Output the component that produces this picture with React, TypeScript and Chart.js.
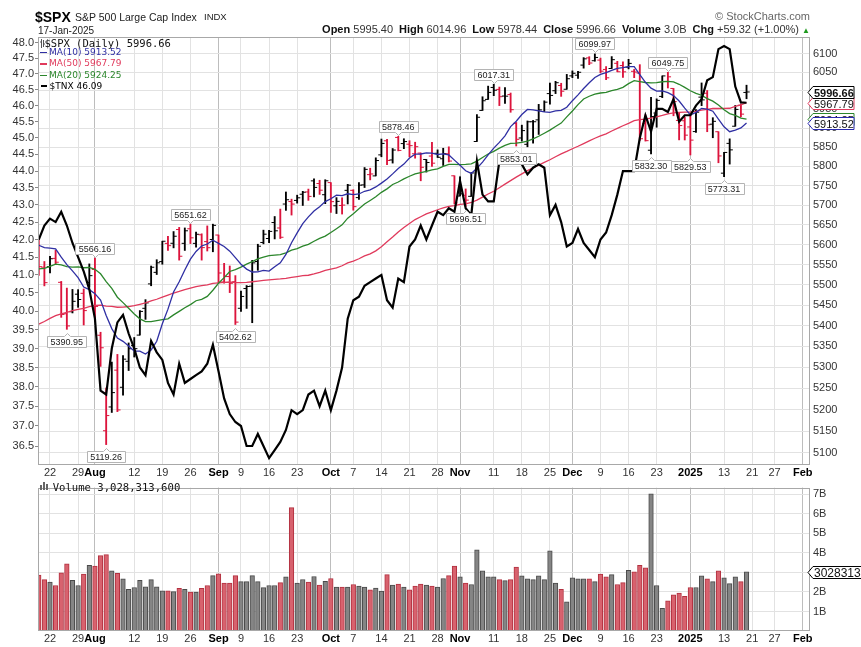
import React, { useEffect, useRef } from 'react';
import { Chart, registerables } from 'chart.js';

Chart.register(...registerables);

const SANS = 'Arial, "Liberation Sans", sans-serif';
const VERD = '"DejaVu Sans", Verdana, sans-serif';
const MONO = '"DejaVu Sans Mono", monospace';

const RED = '#dc143c';
const MA10C = '#2f2fa3';
const MA20C = '#2b862b';
const MA50C = '#e03a5c';

// ---- daily data, 18-Jul-2024 .. 17-Jan-2025 (x position = index) ----
const prevClose = 5588.27;
const opens = [
  5608.56, 5543.37, 5544.54, 5565.30, 5505.84, 5428.70, 5433.67, 5476.55, 5478.73, 5505.59,
  5537.84, 5376.63, 5151.14, 5206.42, 5293.13, 5252.57, 5314.18, 5351.88, 5376.98, 5442.02,
  5501.95, 5530.50, 5557.23, 5602.88, 5603.09, 5637.77, 5602.97, 5639.66, 5602.89, 5624.51,
  5607.30, 5612.74, 5623.89, 5506.68, 5520.08, 5507.33, 5442.07, 5490.51, 5496.42, 5557.48,
  5605.13, 5615.14, 5655.51, 5641.68, 5702.63, 5709.00, 5711.90, 5727.75, 5733.65, 5762.22,
  5755.36, 5726.52, 5757.73, 5698.19, 5698.95, 5737.80, 5737.80, 5719.14, 5751.80, 5778.36,
  5775.09, 5829.81, 5866.74, 5816.58, 5875.62, 5859.43, 5857.82, 5832.70, 5834.50, 5817.80,
  5826.75, 5833.93, 5819.68, 5832.65, 5775.34, 5723.22, 5725.15, 5722.43, 5864.89, 5947.21,
  5976.76, 6008.86, 6003.60, 5985.75, 5989.68, 5912.79, 5874.17, 5857.47, 5917.11, 5922.04,
  5944.36, 5992.28, 6000.03, 6014.11, 6003.98, 6040.11, 6041.97, 6069.39, 6089.03, 6081.38,
  6083.01, 6057.59, 6060.15, 6074.29, 6068.17, 6063.79, 6052.55, 6047.65, 5912.71, 5842.00,
  5940.25, 5984.74, 6024.97, 6006.17, 5920.67, 5919.74, 5903.26, 5891.07, 5982.81, 5993.26,
  5910.66, 5890.66, 5782.16, 5859.97, 5905.21, 5961.02, 5995.40,
];
const highs = [
  5614.05, 5557.50, 5570.36, 5585.34, 5508.04, 5491.59, 5488.32, 5487.74, 5489.46, 5551.51,
  5566.16, 5383.89, 5250.89, 5312.34, 5330.64, 5328.03, 5358.14, 5371.20, 5436.50, 5463.22,
  5546.23, 5561.98, 5608.30, 5620.51, 5632.68, 5643.22, 5641.82, 5651.62, 5631.18, 5627.03,
  5646.95, 5651.37, 5623.89, 5552.99, 5546.30, 5522.47, 5484.20, 5497.91, 5560.41, 5600.71,
  5636.27, 5636.05, 5670.81, 5689.75, 5733.57, 5715.14, 5725.36, 5735.32, 5741.03, 5767.37,
  5763.78, 5765.14, 5757.73, 5719.14, 5718.78, 5753.35, 5739.34, 5757.60, 5796.80, 5795.03,
  5822.13, 5871.41, 5870.36, 5846.52, 5878.46, 5872.17, 5866.92, 5863.04, 5834.85, 5817.80,
  5862.82, 5842.92, 5847.19, 5850.94, 5775.34, 5772.52, 5741.43, 5783.44, 5936.14, 5983.84,
  6012.45, 6017.31, 6009.92, 6008.19, 5993.88, 5915.22, 5908.12, 5919.22, 5920.67, 5963.44,
  5972.90, 6020.75, 6025.42, 6020.16, 6044.17, 6053.58, 6052.55, 6089.84, 6092.42, 6099.97,
  6088.51, 6065.40, 6092.59, 6079.68, 6078.58, 6085.19, 6057.68, 6070.67, 5935.52, 5982.06,
  5978.25, 6040.10, 6049.75, 6006.17, 5940.79, 5929.74, 5935.09, 5949.34, 6021.04, 6000.68,
  5927.89, 5890.66, 5836.63, 5871.92, 5960.61, 5964.69, 6014.96,
];
const lows = [
  5522.81, 5497.04, 5529.04, 5550.90, 5419.98, 5390.95, 5430.70, 5444.44, 5401.46, 5493.75,
  5410.42, 5302.03, 5119.26, 5193.56, 5195.54, 5233.85, 5292.25, 5324.37, 5376.98, 5415.12,
  5497.31, 5525.17, 5550.74, 5585.50, 5591.57, 5560.95, 5585.16, 5602.34, 5593.48, 5560.95,
  5583.71, 5581.79, 5504.33, 5503.66, 5480.51, 5402.62, 5434.49, 5441.72, 5406.96, 5535.50,
  5601.65, 5604.53, 5614.05, 5615.08, 5686.42, 5674.49, 5704.94, 5698.99, 5712.06, 5721.01,
  5727.34, 5703.53, 5681.28, 5678.37, 5677.04, 5702.83, 5686.85, 5714.56, 5745.02, 5764.76,
  5775.09, 5824.83, 5804.48, 5808.34, 5840.25, 5846.11, 5824.76, 5821.17, 5762.41, 5784.92,
  5799.98, 5823.08, 5802.17, 5811.28, 5702.86, 5723.22, 5696.51, 5722.10, 5864.89, 5947.21,
  5976.76, 5986.69, 5960.08, 5965.91, 5942.28, 5853.01, 5865.95, 5850.89, 5860.58, 5883.48,
  5944.36, 5963.91, 5992.27, 5984.87, 6003.98, 6035.33, 6033.39, 6061.06, 6070.60, 6079.98,
  6048.63, 6029.89, 6060.15, 6051.25, 6035.77, 6059.14, 6035.19, 5867.79, 5866.07, 5832.30,
  5902.57, 5981.44, 6007.37, 5932.95, 5869.16, 5868.86, 5829.53, 5888.66, 5960.01, 5890.68,
  5874.78, 5809.22, 5773.31, 5805.73, 5905.21, 5930.11, 5978.44,
];
const closes = [
  5544.59, 5505.00, 5564.41, 5555.74, 5427.13, 5399.22, 5459.10, 5463.54, 5436.44, 5522.30,
  5446.68, 5346.56, 5186.33, 5240.03, 5199.50, 5319.31, 5344.16, 5344.39, 5434.43, 5455.21,
  5543.22, 5554.25, 5608.25, 5597.12, 5620.85, 5570.64, 5634.61, 5616.84, 5625.80, 5592.18,
  5591.96, 5648.40, 5528.93, 5520.07, 5503.41, 5408.42, 5471.05, 5495.52, 5554.13, 5595.76,
  5626.02, 5633.09, 5634.58, 5618.26, 5713.64, 5702.55, 5718.57, 5732.93, 5722.26, 5745.37,
  5738.17, 5762.48, 5708.75, 5709.54, 5699.94, 5751.07, 5695.94, 5751.13, 5792.04, 5780.05,
  5815.03, 5859.85, 5815.26, 5842.47, 5841.47, 5864.67, 5853.98, 5851.20, 5797.42, 5809.86,
  5808.12, 5823.52, 5832.92, 5813.67, 5705.45, 5728.80, 5712.69, 5782.76, 5929.04, 5973.10,
  5995.54, 6001.35, 5983.99, 5985.38, 5949.17, 5870.62, 5893.62, 5916.98, 5917.11, 5948.71,
  5969.34, 5987.37, 6021.63, 5998.74, 6032.38, 6047.15, 6049.88, 6086.49, 6075.11, 6090.27,
  6052.85, 6034.91, 6084.19, 6051.25, 6051.09, 6074.08, 6050.61, 5872.16, 5867.08, 5930.85,
  5974.07, 6040.04, 6037.59, 5970.84, 5906.94, 5881.63, 5868.55, 5942.47, 5975.38, 5909.03,
  5918.25, 5827.04, 5836.22, 5842.91, 5949.91, 5937.34, 5996.66,
];
const ma10 = [
  5598.21, 5591.99, 5591.15, 5589.02, 5568.35, 5549.81, 5534.19, 5517.42, 5494.34, 5487.75,
  5477.96, 5462.11, 5424.30, 5392.73, 5369.97, 5361.98, 5350.49, 5338.57, 5338.37, 5331.66,
  5341.31, 5362.08, 5404.28, 5439.98, 5482.12, 5507.25, 5536.30, 5563.54, 5582.68, 5596.38,
  5601.25, 5610.67, 5602.73, 5595.03, 5583.28, 5567.06, 5550.71, 5538.57, 5531.41, 5531.77,
  5535.17, 5533.64, 5544.21, 5554.02, 5575.05, 5604.46, 5629.21, 5652.95, 5669.77, 5684.73,
  5695.94, 5708.88, 5716.30, 5725.43, 5724.06, 5728.91, 5726.65, 5728.47, 5735.44, 5738.91,
  5746.60, 5756.33, 5766.99, 5780.28, 5794.43, 5805.79, 5821.60, 5831.60, 5832.14, 5835.12,
  5834.43, 5830.80, 5832.56, 5829.68, 5816.08, 5802.49, 5788.37, 5781.52, 5794.68, 5811.01,
  5829.75, 5847.53, 5862.64, 5879.81, 5904.18, 5918.36, 5936.46, 5949.88, 5948.69, 5946.25,
  5943.63, 5942.23, 5945.99, 5947.33, 5955.65, 5973.30, 5988.93, 6005.88, 6021.68, 6035.84,
  6044.19, 6048.94, 6055.20, 6060.45, 6062.32, 6065.01, 6065.09, 6043.65, 6022.85, 6006.91,
  5999.03, 5999.54, 5994.88, 5986.84, 5972.43, 5953.18, 5934.98, 5942.01, 5952.84, 5950.65,
  5945.07, 5923.77, 5903.64, 5890.84, 5895.14, 5900.71, 5913.52,
];
const ma20 = [
  5538.97, 5540.56, 5545.55, 5550.95, 5548.84, 5544.90, 5543.72, 5543.87, 5541.94, 5542.60,
  5538.08, 5527.05, 5507.73, 5490.88, 5469.16, 5455.90, 5442.34, 5428.00, 5416.36, 5409.70,
  5409.64, 5412.10, 5414.29, 5416.36, 5426.04, 5434.62, 5443.39, 5451.06, 5460.52, 5464.02,
  5471.28, 5486.37, 5503.50, 5517.51, 5532.70, 5537.16, 5543.50, 5551.06, 5557.04, 5564.07,
  5568.21, 5572.15, 5573.47, 5574.53, 5579.17, 5585.76, 5589.96, 5595.76, 5600.59, 5608.25,
  5615.56, 5621.26, 5630.25, 5639.73, 5649.55, 5666.68, 5677.93, 5690.71, 5702.60, 5711.82,
  5721.27, 5732.61, 5741.64, 5752.85, 5759.24, 5767.35, 5774.12, 5780.03, 5783.79, 5787.02,
  5790.51, 5793.57, 5799.77, 5804.98, 5805.26, 5804.14, 5804.98, 5806.56, 5813.41, 5823.06,
  5832.09, 5839.16, 5847.60, 5854.75, 5860.13, 5860.43, 5862.41, 5865.70, 5871.68, 5878.63,
  5886.69, 5894.88, 5904.32, 5913.57, 5929.92, 5945.83, 5962.69, 5977.88, 5985.18, 5991.04,
  5993.91, 5995.59, 6000.60, 6003.89, 6008.98, 6019.16, 6027.01, 6024.77, 6022.26, 6021.37,
  6021.61, 6024.24, 6025.04, 6023.64, 6017.37, 6009.10, 6000.03, 5992.83, 5987.84, 5978.78,
  5972.05, 5961.66, 5949.26, 5938.84, 5933.78, 5926.95, 5924.25,
];
const ma50 = [
  5403.50, 5409.84, 5417.38, 5424.21, 5428.30, 5431.86, 5436.10, 5439.21, 5442.00, 5446.38,
  5449.15, 5449.66, 5447.24, 5446.69, 5444.58, 5444.85, 5446.39, 5448.57, 5451.70, 5455.14,
  5460.18, 5464.18, 5469.29, 5474.29, 5479.49, 5483.40, 5487.67, 5491.33, 5495.21, 5497.59,
  5499.69, 5503.20, 5504.48, 5505.93, 5506.61, 5505.22, 5504.98, 5505.68, 5507.26, 5509.00,
  5510.78, 5512.09, 5513.33, 5514.15, 5515.75, 5518.11, 5520.17, 5522.21, 5523.31, 5526.45,
  5530.32, 5535.47, 5538.36, 5541.44, 5546.89, 5553.93, 5558.67, 5564.42, 5571.53, 5576.69,
  5584.05, 5594.32, 5606.90, 5618.95, 5631.78, 5642.69, 5652.89, 5663.02, 5670.28, 5677.38,
  5682.67, 5688.06, 5692.55, 5696.88, 5698.57, 5701.74, 5703.30, 5706.62, 5712.68, 5720.30,
  5728.37, 5735.43, 5744.53, 5753.84, 5762.75, 5772.00, 5780.45, 5788.88, 5796.14, 5803.20,
  5810.06, 5817.15, 5824.89, 5832.50, 5838.87, 5845.77, 5852.39, 5859.46, 5866.52, 5873.42,
  5879.71, 5885.16, 5892.67, 5899.50, 5906.53, 5912.99, 5920.08, 5922.50, 5924.00, 5927.02,
  5930.20, 5933.81, 5938.25, 5940.82, 5942.13, 5942.47, 5942.76, 5944.58, 5948.14, 5950.13,
  5952.33, 5952.40, 5952.47, 5953.05, 5957.94, 5962.11, 5967.79,
];
const tnx = [
  42.0, 42.4, 42.6, 42.5, 42.8, 42.4, 41.9, 41.5, 41.1, 40.6,
  39.8, 37.9, 37.8, 39.0, 39.7, 39.9, 39.4, 39.0, 38.5, 38.3,
  39.2, 38.9, 38.7, 38.1, 37.8, 38.6, 38.1, 38.2, 38.3, 38.4,
  38.6, 39.1, 38.4, 37.7, 37.3, 37.1, 37.0, 36.5, 36.5, 36.8,
  36.5, 36.2, 36.4, 36.6, 36.9, 37.4, 37.3, 37.4, 37.8, 37.9,
  37.5, 37.9, 37.4, 37.9, 38.5, 39.8, 40.3, 40.4, 40.7, 40.8,
  40.9, 41.0, 40.3, 40.1, 40.9, 40.8, 41.8, 42.0, 42.4, 42.0,
  42.4, 42.8, 42.7, 42.9, 42.8, 43.7, 42.9, 42.7, 44.3, 43.3,
  43.1, 43.1, 44.3, 44.5, 44.3, 44.3, 44.2, 43.9, 44.1, 44.2,
  44.1, 42.7, 43.0, 42.5, 41.8, 41.9, 42.3, 41.9, 41.7, 41.5,
  42.0, 42.2, 42.7, 43.3, 44.0, 44.0, 44.0, 45.0, 45.7, 45.2,
  45.9, 45.9, 45.8, 46.2, 45.5, 45.7, 45.7, 46.0, 46.2, 46.8,
  46.9, 47.8, 47.9, 47.8, 46.6, 46.1, 46.09,
];
// volume in billions of shares
const volumes = [
  2.87, 2.63, 2.50, 2.33, 2.98, 3.44, 2.59, 2.33, 2.92, 3.37,
  3.33, 3.86, 3.91, 3.08, 2.95, 2.67, 2.14, 2.23, 2.59, 2.26,
  2.63, 2.26, 2.06, 2.06, 2.02, 2.19, 2.14, 1.99, 1.99, 2.19,
  2.33, 2.84, 2.93, 2.45, 2.45, 2.84, 2.53, 2.53, 2.84, 2.53,
  2.22, 2.33, 2.33, 2.48, 2.77, 6.32, 2.46, 2.64, 2.50, 2.79,
  2.35, 2.55, 2.69, 2.25, 2.25, 2.25, 2.38, 2.30, 2.25, 2.11,
  2.20, 2.04, 2.89, 2.35, 2.40, 2.25, 2.11, 2.30, 2.40, 2.35,
  2.30, 2.25, 2.69, 2.84, 3.33, 2.77, 2.45, 2.38, 4.16, 3.08,
  2.77, 2.77, 2.63, 2.58, 2.63, 3.28, 2.82, 2.67, 2.63, 2.82,
  2.63, 4.11, 2.45, 2.14, 1.50, 2.72, 2.67, 2.67, 2.67, 2.53,
  2.92, 2.77, 2.89, 2.38, 2.48, 3.11, 3.03, 3.37, 3.23, 7.02,
  2.33, 1.16, 1.55, 1.85, 1.94, 1.78, 2.23, 2.23, 2.82, 2.67,
  2.53, 3.08, 2.72, 2.43, 2.77, 2.53, 3.0283136,
];

// ---- axes ----
const X_MIN = -0.136;
const X_MAX = 137.3;
const xTickPos = [2, 7, 10, 17, 22, 27, 32, 36, 41, 46, 52, 56, 61, 66, 71, 75, 81, 86, 91, 95, 100, 105, 110, 116, 122, 127, 131, 136];
const xTickLabels = ['22', '29', 'Aug', '12', '19', '26', 'Sep', '9', '16', '23', 'Oct', '7', '14', '21', '28', 'Nov', '11', '18', '25', 'Dec', '9', '16', '23', '2025', '13', '21', '27', 'Feb'];
const monthLabels = ['Aug', 'Sep', 'Oct', 'Nov', 'Dec', '2025', 'Feb'];
const spxTicks = [5100, 5150, 5200, 5250, 5300, 5350, 5400, 5450, 5500, 5550, 5600, 5650, 5700, 5750, 5800, 5850, 5900, 5950, 6000, 6050, 6100];
const tnxTicks = [36.5, 37.0, 37.5, 38.0, 38.5, 39.0, 39.5, 40.0, 40.5, 41.0, 41.5, 42.0, 42.5, 43.0, 43.5, 44.0, 44.5, 45.0, 45.5, 46.0, 46.5, 47.0, 47.5, 48.0];
const volTicks = [1, 2, 3, 4, 5, 6, 7];

const annotations = [
  { k: 5, v: 5390.95, pos: 'below' },
  { k: 10, v: 5566.16, pos: 'above' },
  { k: 12, v: 5119.26, pos: 'below' },
  { k: 27, v: 5651.62, pos: 'above' },
  { k: 35, v: 5402.62, pos: 'below' },
  { k: 64, v: 5878.46, pos: 'above' },
  { k: 76, v: 5696.51, pos: 'below' },
  { k: 81, v: 6017.31, pos: 'above' },
  { k: 85, v: 5853.01, pos: 'below' },
  { k: 99, v: 6099.97, pos: 'above' },
  { k: 109, v: 5832.30, pos: 'below' },
  { k: 112, v: 6049.75, pos: 'above' },
  { k: 116, v: 5829.53, pos: 'below' },
  { k: 122, v: 5773.31, pos: 'below' },
];

const last = closes.length - 1;

function xScale(h: number) {
  return {
    type: 'linear',
    min: X_MIN,
    max: X_MAX,
    bounds: 'data',
    offset: false,
    afterBuildTicks: (axis: any) => {
      axis.ticks = xTickPos.map((v, j) => ({ value: v, major: monthLabels.indexOf(xTickLabels[j]) >= 0 }));
    },
    afterFit: (axis: any) => {
      axis.height = h;
    },
    ticks: {
      autoSkip: false,
      maxRotation: 0,
      minRotation: 0,
      padding: 1,
      color: (c: any) => (c.tick && c.tick.major ? '#000' : '#333'),
      callback: (_v: any, i: number) => xTickLabels[i],
      font: (c: any) => ({ family: SANS, size: 11, weight: c.tick && c.tick.major ? 'bold' : 'normal' }),
    },
    grid: {
      offset: false,
      drawTicks: false,
      color: (c: any) => (c.tick && c.tick.major ? '#bdbdbd' : '#e2e2e2'),
      lineWidth: 1,
    },
    border: { display: false },
  };
}

const borderPlugin = {
  id: 'plotBorder',
  afterDatasetsDraw(chart: any) {
    const { ctx, chartArea: a } = chart;
    ctx.save();
    ctx.strokeStyle = '#a8a8a8';
    ctx.lineWidth = 1;
    ctx.strokeRect(Math.round(a.left) + 0.5, Math.round(a.top) + 0.5, Math.round(a.right - a.left) - 1, Math.round(a.bottom - a.top) - 1);
    ctx.restore();
  },
};

const annotPlugin = {
  id: 'priceNotes',
  afterDatasetsDraw(chart: any) {
    const ctx = chart.ctx;
    const xs = chart.scales.x;
    const ys = chart.scales.ySPX;
    ctx.save();
    ctx.font = `9px ${SANS}`;
    ctx.textAlign = 'center';
    ctx.textBaseline = 'alphabetic';
    for (const a of annotations) {
      const x = xs.getPixelForValue(a.k);
      const y = ys.getPixelForValue(a.v);
      const text = a.v.toFixed(2);
      const w = Math.round(ctx.measureText(text).width + 6);
      const h = 11;
      const bx = Math.round(x - w / 2) + 0.5;
      const cx = Math.round(x) + 0.5;
      const by = a.pos === 'above' ? Math.round(y - 4.5 - h) + 0.5 : Math.round(y + 6.5) + 0.5;
      ctx.beginPath();
      if (a.pos === 'above') {
        ctx.moveTo(bx, by);
        ctx.lineTo(bx + w, by);
        ctx.lineTo(bx + w, by + h);
        ctx.lineTo(cx + 3, by + h);
        ctx.lineTo(cx, by + h + 3);
        ctx.lineTo(cx - 3, by + h);
        ctx.lineTo(bx, by + h);
      } else {
        ctx.moveTo(bx, by);
        ctx.lineTo(cx - 3, by);
        ctx.lineTo(cx, by - 3);
        ctx.lineTo(cx + 3, by);
        ctx.lineTo(bx + w, by);
        ctx.lineTo(bx + w, by + h);
        ctx.lineTo(bx, by + h);
      }
      ctx.closePath();
      ctx.fillStyle = '#ffffff';
      ctx.fill();
      ctx.strokeStyle = '#b4b4b4';
      ctx.lineWidth = 1;
      ctx.stroke();
      ctx.fillStyle = '#222';
      ctx.fillText(text, x, by + h - 2.5);
    }
    ctx.restore();
  },
};

function drawTag(ctx: any, left: number, cy: number, text: string, border: string, bold: boolean, width: number, size: number) {
  const t = Math.round(cy) + 0.5;
  ctx.beginPath();
  ctx.moveTo(left, t);
  ctx.lineTo(left + 5, t - 6);
  ctx.lineTo(left + width, t - 6);
  ctx.lineTo(left + width, t + 6);
  ctx.lineTo(left + 5, t + 6);
  ctx.closePath();
  ctx.fillStyle = '#fff';
  ctx.fill();
  ctx.strokeStyle = border;
  ctx.lineWidth = 1;
  ctx.stroke();
  ctx.fillStyle = '#111';
  ctx.font = `${bold ? 'bold ' : ''}${size}px ${SANS}`;
  ctx.textAlign = 'left';
  ctx.textBaseline = 'alphabetic';
  ctx.fillText(text, left + 6, t + 4);
}

const tagPlugin = {
  id: 'lastTags',
  afterDraw(chart: any) {
    const ctx = chart.ctx;
    const ys = chart.scales.ySPX;
    const left = chart.chartArea.right - 2;
    const tags = [
      { v: ma20[last], c: MA20C, b: false },
      { v: ma10[last], c: '#2a2ab0', b: false },
      { v: ma50[last], c: MA50C, b: false },
      { v: closes[last], c: '#000', b: true },
    ];
    ctx.save();
    for (const t of tags) {
      drawTag(ctx, left, ys.getPixelForValue(t.v), t.v.toFixed(2), t.c, t.b, 46, 11);
    }
    ctx.restore();
  },
};

const volTagPlugin = {
  id: 'volTag',
  afterDraw(chart: any) {
    const ctx = chart.ctx;
    const ys = chart.scales.yVol;
    const left = chart.chartArea.right - 2;
    ctx.save();
    drawTag(ctx, left, ys.getPixelForValue(volumes[last]), String(Math.round(volumes[last] * 1e9)), '#000', false, 80, 12);
    ctx.restore();
  },
};

function Txt(props: any) {
  const { x, y, size, font = SANS, color = '#222', bold, right, ls, children } = props;
  const pos: any = right ? { right: 861 - x } : { left: x };
  return (
    <div
      style={{
        position: 'absolute',
        ...pos,
        top: y - 0.846 * size,
        fontFamily: font,
        fontSize: size,
        lineHeight: `${size}px`,
        color,
        fontWeight: bold ? 'bold' : 'normal',
        whiteSpace: 'nowrap',
        letterSpacing: ls ? `${ls}px` : undefined,
      }}
    >
      {children}
    </div>
  );
}

function Mark(props: any) {
  const { x, y, w, h, color } = props;
  return <div style={{ position: 'absolute', left: x, top: y, width: w, height: h, background: color }} />;
}

export default function App() {
  const mainRef = useRef<HTMLCanvasElement>(null);
  const volRef = useRef<HTMLCanvasElement>(null);

  useEffect(() => {
    const up = closes.map((c, k) => c > (k === 0 ? prevClose : closes[k - 1]));
    const priceColors = up.map((u) => (u ? '#000000' : RED));
    const volFill = up.map((u) => (u ? '#858585' : '#d8626e'));
    const volBorder = up.map((u) => (u ? '#4a4a4a' : '#b2303f'));
    const xs = closes.map((_, k) => k);

    const line = (data: number[], color: string, width: number, axis: string, order: number, label: string) => ({
      type: 'line',
      label,
      data: xs.map((x, k) => ({ x, y: data[k] })),
      borderColor: color,
      borderWidth: width,
      pointRadius: 0,
      tension: 0,
      fill: false,
      yAxisID: axis,
      order,
    });

    const main = new Chart(mainRef.current as any, {
      type: 'line',
      data: {
        datasets: [
          line(tnx, '#000000', 2.2, 'yTNX', 0, '$TNX'),
          line(ma10, MA10C, 1.3, 'ySPX', 1, 'MA(10)'),
          line(ma20, MA20C, 1.3, 'ySPX', 2, 'MA(20)'),
          line(ma50, MA50C, 1.3, 'ySPX', 3, 'MA(50)'),
          {
            type: 'line',
            label: 'Open',
            data: xs.map((x, k) => ({ x: x - 0.28, y: opens[k] })),
            showLine: false,
            pointStyle: 'line',
            pointRadius: 1.6,
            pointBorderWidth: 1,
            pointBorderColor: priceColors,
            pointBackgroundColor: priceColors,
            yAxisID: 'ySPX',
            order: 8,
          },
          {
            type: 'line',
            label: 'Close',
            data: xs.map((x, k) => ({ x: x + 0.28, y: closes[k] })),
            showLine: false,
            pointStyle: 'line',
            pointRadius: 1.6,
            pointBorderWidth: 1,
            pointBorderColor: priceColors,
            pointBackgroundColor: priceColors,
            yAxisID: 'ySPX',
            order: 8,
          },
          {
            type: 'bar',
            label: '$SPX',
            data: xs.map((x, k) => ({ x, y: [lows[k], highs[k]] })),
            backgroundColor: priceColors,
            borderWidth: 0,
            barThickness: 1.2,
            grouped: false,
            yAxisID: 'ySPX',
            order: 9,
          },
        ],
      } as any,
      options: {
        responsive: false,
        maintainAspectRatio: false,
        animation: false,
        devicePixelRatio: 1,
        events: [],
        layout: { padding: { top: 37, left: 0, right: 0, bottom: 0 } },
        plugins: { legend: { display: false }, tooltip: { enabled: false } },
        scales: {
          x: xScale(13),
          yTNX: {
            type: 'logarithmic',
            position: 'left',
            min: 36.032,
            max: 48.196,
            bounds: 'data',
            afterBuildTicks: (axis: any) => {
              axis.ticks = tnxTicks.map((v) => ({ value: v }));
            },
            afterFit: (axis: any) => {
              axis.width = 38;
            },
            ticks: {
              autoSkip: false,
              padding: 1,
              color: '#333',
              font: { family: SANS, size: 11 },
              callback: (v: any) => Number(v).toFixed(1),
            },
            grid: { drawOnChartArea: false, tickLength: 3, color: '#888' },
            border: { display: false },
          },
          ySPX: {
            type: 'logarithmic',
            position: 'right',
            min: 5072.6,
            max: 6146.4,
            bounds: 'data',
            afterBuildTicks: (axis: any) => {
              axis.ticks = spxTicks.map((v) => ({ value: v }));
            },
            afterFit: (axis: any) => {
              axis.width = 51;
            },
            ticks: {
              autoSkip: false,
              padding: 3,
              color: '#333',
              font: { family: SANS, size: 11 },
              callback: (v: any) => String(v),
            },
            grid: { drawTicks: false, color: '#e2e2e2' },
            border: { display: false },
          },
        },
      } as any,
      plugins: [borderPlugin, annotPlugin, tagPlugin],
    });

    const vol = new Chart(volRef.current as any, {
      type: 'bar',
      data: {
        datasets: [
          {
            label: 'Volume',
            data: xs.map((x, k) => ({ x, y: volumes[k] })),
            backgroundColor: volFill,
            borderColor: volBorder,
            borderWidth: 1,
            barThickness: 4.6,
            yAxisID: 'yVol',
          },
        ],
      } as any,
      options: {
        responsive: false,
        maintainAspectRatio: false,
        animation: false,
        devicePixelRatio: 1,
        events: [],
        layout: { padding: { top: 2, left: 38, right: 0, bottom: 0 } },
        plugins: { legend: { display: false }, tooltip: { enabled: false } },
        scales: {
          x: xScale(16),
          yVol: {
            type: 'linear',
            position: 'right',
            min: 0,
            max: 7.345,
            bounds: 'data',
            afterBuildTicks: (axis: any) => {
              axis.ticks = volTicks.map((v) => ({ value: v }));
            },
            afterFit: (axis: any) => {
              axis.width = 51;
            },
            ticks: {
              autoSkip: false,
              padding: 3,
              color: '#333',
              font: { family: SANS, size: 11 },
              callback: (v: any) => `${v}B`,
            },
            grid: { drawTicks: false, color: '#e2e2e2' },
            border: { display: false },
          },
        },
      } as any,
      plugins: [borderPlugin, volTagPlugin],
    });

    return () => {
      main.destroy();
      vol.destroy();
    };
  }, []);

  const chg = closes[last] - closes[last - 1];
  const pct = (chg / closes[last - 1]) * 100;
  const volText = Math.round(volumes[last] * 1e9).toLocaleString('en-US');
  const gap = <span style={{ display: 'inline-block', width: 6 }} />;
  const lab = { fontSize: 11, color: '#111' };

  return (
    <div style={{ position: 'absolute', left: 0, top: 0, width: 861, height: 647, background: '#fff', overflow: 'hidden' }}>
      <canvas ref={mainRef} width={861} height={478} style={{ position: 'absolute', left: 0, top: 0 }} />
      <canvas ref={volRef} width={861} height={169} style={{ position: 'absolute', left: 0, top: 478 }} />

      {/* header */}
      <Txt x={35} y={22} size={14} bold color="#000">$SPX</Txt>
      <Txt x={75} y={21} size={10.5} color="#222">S&amp;P 500 Large Cap Index</Txt>
      <Txt x={204} y={20.5} size={9.5} color="#222">INDX</Txt>
      <Txt x={38} y={34} size={10} color="#222">17-Jan-2025</Txt>
      <Txt x={810} y={20} size={11} right color="#666">© StockCharts.com</Txt>
      <Txt x={810} y={33.5} size={11} right color="#333">
        <b style={lab}>Open</b> {opens[last].toFixed(2)}{gap}
        <b style={lab}>High</b> {highs[last].toFixed(2)}{gap}
        <b style={lab}>Low</b> {lows[last].toFixed(2)}{gap}
        <b style={lab}>Close</b> {closes[last].toFixed(2)}{gap}
        <b style={lab}>Volume</b> {volumes[last].toFixed(1)}B{gap}
        <b style={lab}>Chg</b> +{chg.toFixed(2)} (+{pct.toFixed(2)}%){' '}
        <span style={{ color: '#1f9a1f', fontSize: 8 }}>▲</span>
      </Txt>

      {/* price panel legend */}
      <svg style={{ position: 'absolute', left: 40, top: 39 }} width={5} height={9}>
        <path d="M1.5 0 V9 M0 3 H1.5 M3.5 1 V8 M3.5 5 H5" stroke="#555" strokeWidth={1} fill="none" />
      </svg>
      <Txt x={44.5} y={47} size={10.5} font={MONO} color="#111">$SPX (Daily) {closes[last].toFixed(2)}</Txt>
      <Mark x={40} y={51.5} w={7} h={1.6} color={MA10C} />
      <Txt x={49} y={55.5} size={9} font={VERD} color={MA10C}>MA(10) {ma10[last].toFixed(2)}</Txt>
      <Mark x={40} y={63} w={7} h={1.6} color={MA50C} />
      <Txt x={49} y={67} size={9} font={VERD} color={MA50C}>MA(50) {ma50[last].toFixed(2)}</Txt>
      <Mark x={40} y={74.5} w={7} h={1.6} color={MA20C} />
      <Txt x={49} y={78.3} size={9} font={VERD} color={MA20C}>MA(20) {ma20[last].toFixed(2)}</Txt>
      <Mark x={41} y={85} w={6} h={2} color="#000" />
      <Txt x={49.5} y={89.3} size={9} font={VERD} color="#000">$TNX {tnx[last].toFixed(2)}</Txt>

      {/* volume legend */}
      <svg style={{ position: 'absolute', left: 40, top: 482 }} width={9} height={8}>
        <rect x={0} y={3} width={2} height={5} fill="#666" />
        <rect x={3} y={0} width={2} height={8} fill="#666" />
        <rect x={6} y={2} width={2} height={6} fill="#666" />
      </svg>
      <Txt x={52.7} y={491} size={10.6} font={MONO} color="#111">Volume {volText}</Txt>
    </div>
  );
}
